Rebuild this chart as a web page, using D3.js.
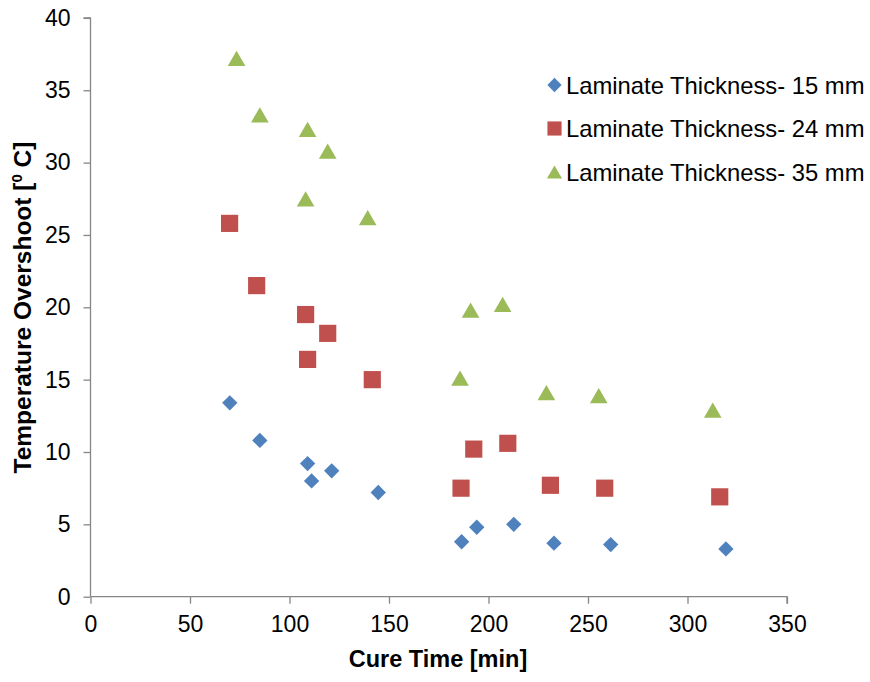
<!DOCTYPE html>
<html>
<head>
<meta charset="utf-8">
<script src="https://cdn.jsdelivr.net/npm/d3@7"></script>
<style>
  body { margin: 0; background: #fff; }
  svg { font-family: "Liberation Sans", Arial, sans-serif; }
</style>
</head>
<body>
<svg width="870" height="682"></svg>
<script>
// series data
const cure15 = [70.0, 85.1, 109.1, 111.1, 121.2, 144.6, 186.5, 194.1, 212.7, 232.9, 261.4, 319.3];
const over15 = [13.4, 10.8, 9.2, 8.0, 8.7, 7.2, 3.8, 4.8, 5.0, 3.7, 3.6, 3.3];
const cure24 = [69.9, 83.5, 108.1, 119.2, 109.1, 141.6, 186.2, 192.6, 209.7, 231.1, 258.4, 316.2];
const over24 = [25.8, 21.5, 19.5, 18.2, 16.4, 15.0, 7.5, 10.2, 10.6, 7.7, 7.5, 6.9];
const cure35 = [73.4, 85.1, 109.1, 119.2, 108.1, 139.3, 191.0, 207.1, 185.7, 229.1, 255.4, 312.7];
const over35 = [37.2, 33.3, 32.3, 30.8, 27.5, 26.2, 19.8, 20.2, 15.1, 14.1, 13.9, 12.9];

const seriesNames = ["Laminate Thickness- 15 mm", "Laminate Thickness- 24 mm", "Laminate Thickness- 35 mm"];
const xTicks = [0, 50, 100, 150, 200, 250, 300, 350];
const yTicks = [0, 5, 10, 15, 20, 25, 30, 35, 40];

const series = [
  { name: seriesNames[0], xs: cure15, ys: over15, color: "#4F81BD", symbol: d3.symbolDiamond2, size: 150, legendSize: 130 },
  { name: seriesNames[1], xs: cure24, ys: over24, color: "#C0504D", symbol: d3.symbolSquare, size: 295, legendSize: 200 },
  { name: seriesNames[2], xs: cure35, ys: over35, color: "#9BBB59", symbol: d3.symbolTriangle, size: 135, legendSize: 100 }
];

const margin = { top: 18, right: 83, bottom: 85, left: 90.5 };
const width = 870, height = 682;

const x = d3.scaleLinear().domain([0, 350]).range([margin.left, width - margin.right]);
const y = d3.scaleLinear().domain([0, 40]).range([596.7, 17.9]);

const svg = d3.select("svg");

// y axis
const yAxis = svg.append("g")
  .attr("transform", `translate(${margin.left},0)`)
  .call(d3.axisLeft(y).tickValues(yTicks).tickSize(7).tickPadding(13));
// x axis
const xAxis = svg.append("g")
  .attr("transform", `translate(0,${y(0)})`)
  .call(d3.axisBottom(x).tickValues(xTicks).tickSize(7).tickPadding(12));

[xAxis, yAxis].forEach(g => {
  g.select(".domain").attr("stroke", "#868686").attr("stroke-width", 1.3);
  g.selectAll(".tick line").attr("stroke", "#868686").attr("stroke-width", 1.3);
  g.selectAll(".tick text").attr("fill", "#000").style("font-size", "23px")
    .style("font-family", "'Liberation Sans', Arial, sans-serif");
});
yAxis.select(".domain").attr("d", `M-7,${y(40)}H0V${y(0)}`);
xAxis.select(".domain").attr("d", `M${x(0)},0H${x(350)}V7`);

// triangle is drawn around its centroid; shift so the box centre sits on the point
function symbolOffset(s, size) {
  if (s !== d3.symbolTriangle) return 0;
  const side = Math.sqrt(size * 4 / Math.sqrt(3));
  return side * Math.sqrt(3) / 2 / 6;
}

// points
series.forEach(s => {
  const sym = d3.symbol().type(s.symbol).size(s.size);
  const off = symbolOffset(s.symbol, s.size);
  svg.append("g").selectAll("path")
    .data(s.xs.map((v, i) => [v, s.ys[i]]))
    .join("path")
    .attr("d", sym)
    .attr("transform", d => `translate(${x(d[0])},${y(d[1]) + off})`)
    .attr("fill", s.color);
});

// legend
const legend = svg.append("g").attr("transform", "translate(554.5,85)");
series.forEach((s, i) => {
  const row = legend.append("g").attr("transform", `translate(0,${i * 43.5})`);
  row.append("path").attr("d", d3.symbol().type(s.symbol).size(s.legendSize)).attr("fill", s.color)
    .attr("transform", `translate(0,${symbolOffset(s.symbol, s.legendSize)})`);
  row.append("text").attr("x", 11.5).attr("y", 8.5).style("font-size", "23.8px").text(s.name);
});

// axis titles
svg.append("text")
  .attr("x", 438).attr("y", 667)
  .attr("text-anchor", "middle").style("font-size", "23.5px").style("font-weight", "bold")
  .text("Cure Time [min]");

const yt = svg.append("text")
  .attr("transform", `translate(31,307.5) rotate(-90)`)
  .attr("text-anchor", "middle").style("font-size", "24.5px").style("font-weight", "bold");
yt.append("tspan").text("Temperature Overshoot [");
yt.append("tspan").attr("dy", -9).style("font-size", "15px").text("0");
yt.append("tspan").attr("dy", 9).text(" C]");
</script>
</body>
</html>
